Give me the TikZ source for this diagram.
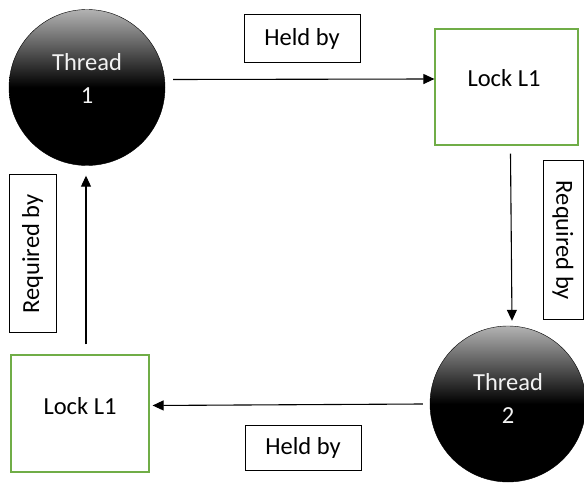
\documentclass[tikz,border=0pt]{standalone}
\usepackage{fontspec}
\setmainfont{Carlito}
\usetikzlibrary{arrows.meta}
\begin{document}
\begin{tikzpicture}[x=1pt,y=-1pt,
  thread/.style={circle,minimum size=156pt,inner sep=0pt,draw=black,top color=black!30,bottom color=black,middle color=black,shading angle=0},
  threadtext/.style={text=black!5,align=center,font=\fontsize{24.5}{33}\selectfont},
  lockbox/.style={draw={rgb,255:red,112;green,173;blue,71},line width=1.2pt,inner sep=0pt},
  labelbox/.style={draw=black,line width=1pt,inner sep=0pt,font=\fontsize{24.5}{28}\selectfont},
  locktext/.style={font=\fontsize{24.5}{28}\selectfont},
  arr/.style={line width=1.1pt,-{Triangle[length=11pt,width=10pt]}}]
\useasboundingbox (0,0) rectangle (584,486);
\fill[white] (0,0) rectangle (584,486);
% threads
\node[thread] (t1) at (87,87.5) {};
\node[threadtext] (t1text) at (87,78) {Thread\\1};
\node[thread] (t2) at (508,404) {};
\node[threadtext] (t2text) at (508,398) {Thread\\2};
% locks
\node[lockbox,minimum width=143pt,minimum height=116pt] (l1) at (506.5,87) {};
\node[locktext] (l1text) at (504,78) {Lock L1};
\node[lockbox,minimum width=138pt,minimum height=117pt] (l2) at (80,413.5) {};
\node[locktext] (l2text) at (80,406) {Lock L1};
% labels
\node[labelbox,minimum width=116pt,minimum height=48pt] (h1) at (302,39) {Held by};
\node[labelbox,minimum width=116pt,minimum height=45pt] (h2) at (303,447.5) {Held by};
\node[labelbox,rotate=-90,minimum width=159pt,minimum height=40pt] (r1) at (563,240.5) {Required by};
\node[labelbox,rotate=90,minimum width=158pt,minimum height=47pt] (r2) at (32.5,254) {Required by};
% arrows
\draw[arr] ([xshift=8pt,yshift=8pt]t1.east) -- ([yshift=8pt]l1.west);
\draw[arr] ([xshift=4pt,yshift=-8pt]l1.south) -- ([xshift=4pt,yshift=5pt]t2.north);
\draw[arr] ([xshift=-7pt]t2.west) -- ([xshift=3pt,yshift=8pt]l2.east);
\draw[arr] ([xshift=6pt,yshift=10pt]l2.north) -- ([xshift=-1pt,yshift=-10pt]t1.south);
\end{tikzpicture}
\end{document}
